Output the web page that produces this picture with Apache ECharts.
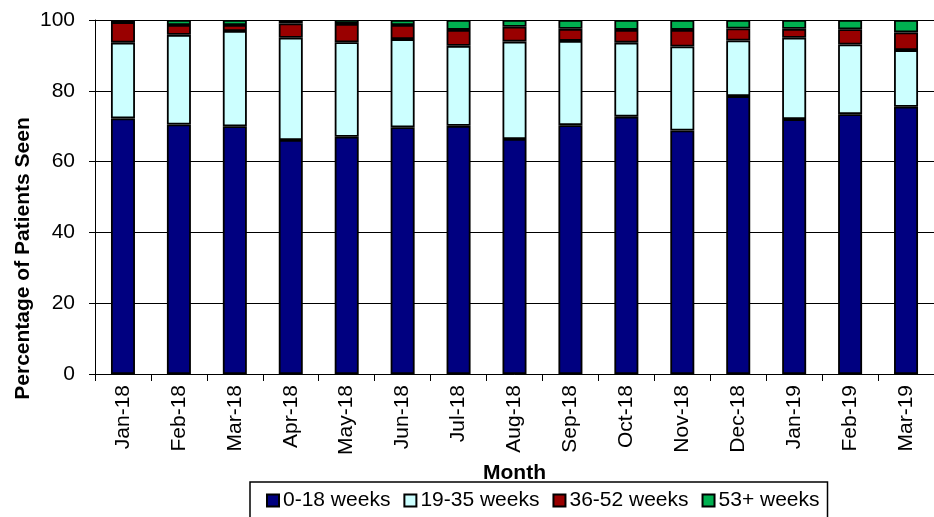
<!DOCTYPE html>
<html><head><meta charset="utf-8">
<script src="https://cdn.jsdelivr.net/npm/echarts@6/dist/echarts.min.js"></script>
<style>html,body{margin:0;padding:0;background:#fff}#c{width:934px;height:517px}</style>
</head><body><div id="c"></div>
<script>
var categories = ['Jan-18','Feb-18','Mar-18','Apr-18','May-18','Jun-18','Jul-18','Aug-18','Sep-18','Oct-18','Nov-18','Dec-18','Jan-19','Feb-19','Mar-19'];
var w0_18  = [72.2,70.5,70.0,66.1,67.0,69.7,70.1,66.4,70.3,72.7,68.8,78.5,72.0,73.4,75.5];
var w19_35 = [21.4,25.3,26.9,28.9,26.7,24.9,22.6,27.5,23.8,20.9,23.7,15.7,23.0,19.7,16.0];
var w36_52 = [5.8,2.8,1.7,4.0,5.2,4.0,4.5,4.2,3.4,3.6,4.7,3.4,2.5,4.3,5.0];
var w53p   = [0.6,1.4,1.4,1.0,1.1,1.4,2.8,1.9,2.5,2.8,2.8,2.4,2.5,2.6,3.5];
var yTicks = [0,20,40,60,80,100];
var seriesNames = ['0-18 weeks','19-35 weeks','36-52 weeks','53+ weeks'];
var seriesData = [w0_18, w19_35, w36_52, w53p];
var colors = ['#000080','#CCFFFF','#990000','#00B050'];

var chart = echarts.init(document.getElementById('c'));
var font = 'Liberation Sans, Arial, sans-serif';
chart.setOption({
  animation: false,
  textStyle: {fontFamily: font},
  grid: {left: 95, top: 20, width: 855, height: 354, containLabel: false},
  legend: {
    left: 250, top: 482, data: seriesNames,
    itemWidth: 12, itemHeight: 12, itemGap: 13,
    borderColor: '#000', borderWidth: 1.5, padding: [8, 8, 10, 16],
    icon: 'rect',
    textStyle: {fontSize: 21, color: '#000', fontFamily: font, padding: [0,0,0,-1]}
  },
  graphic: [{
    type: 'text', left: 13, top: 'middle',
    x: 0, y: 0,
    style: {text: 'Percentage of Patients Seen', font: 'bold 21px ' + font, fill: '#000'},
    rotation: Math.PI / 2,
    originX: 0, originY: 0
  }],
  xAxis: {
    type: 'category', data: categories,
    name: 'Month', nameLocation: 'middle', nameGap: 80,
    nameTextStyle: {fontSize: 21, fontWeight: 'bold', color: '#000', fontFamily: font},
    axisLine: {lineStyle: {color: '#000', width: 1}},
    axisTick: {show: true, alignWithLabel: false, length: 7, lineStyle: {color: '#000'}},
    axisLabel: {rotate: 90, fontSize: 21, color: '#000', margin: 11, fontFamily: font}
  },
  yAxis: {
    type: 'value', min: 0, max: 100, interval: 20,
    axisLine: {show: true, lineStyle: {color: '#000', width: 1}},
    axisTick: {show: true, length: 6, lineStyle: {color: '#000'}},
    axisLabel: {fontSize: 21, color: '#000', margin: 20, fontFamily: font,
      formatter: function(v){ return yTicks.indexOf(v) >= 0 ? String(v) : ''; }},
    splitLine: {show: true, lineStyle: {color: '#000', width: 1}}
  },
  series: seriesNames.map(function(n, i){
    return {
      name: n, type: 'bar', stack: 'total', barWidth: 24,
      data: seriesData[i],
      itemStyle: {color: colors[i], borderColor: '#000', borderWidth: 1.8}
    };
  })
});
</script></body></html>
